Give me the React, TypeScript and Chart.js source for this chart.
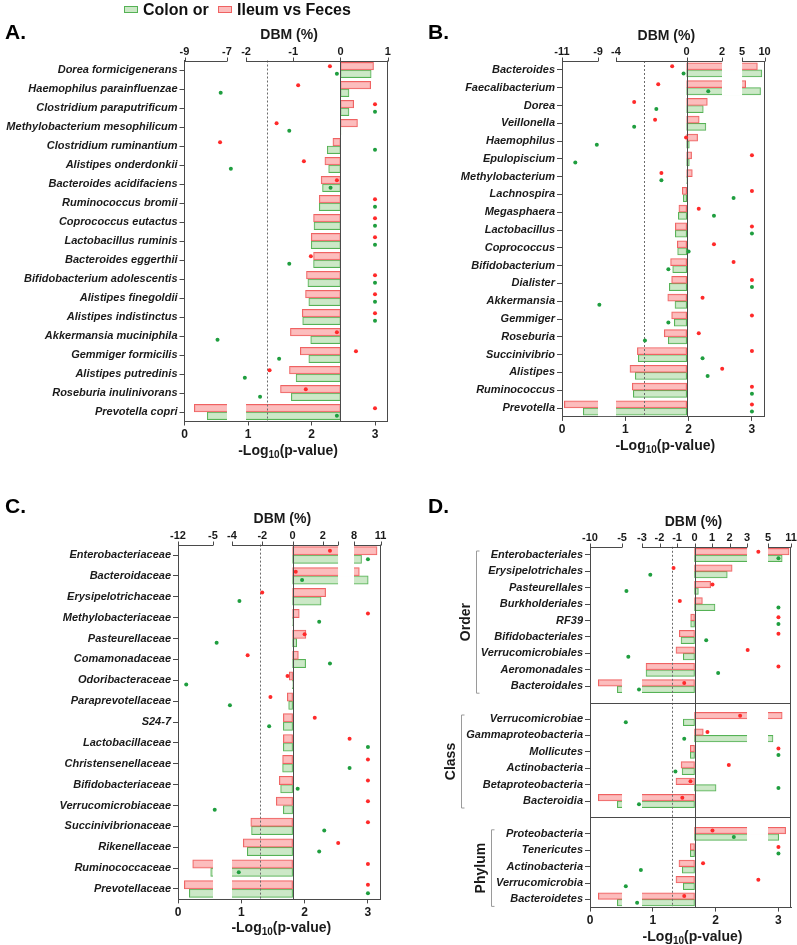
import React, { useEffect, useRef } from 'react';
import { Chart, registerables } from 'chart.js';

Chart.register(...registerables);

const FONT = "'Liberation Sans', Arial, Helvetica, sans-serif";
Chart.defaults.font.family = FONT;

const RED_FILL = 'rgba(251, 178, 178, 0.85)';
const RED_LINE = '#EF6262';
const GREEN_FILL = 'rgba(199, 230, 193, 0.9)';
const GREEN_LINE = '#55B255';
const RED_DOT = '#FF2A2A';
const GREEN_DOT = '#1F9E3F';
const AXIS = '#4a4a4a';
const TEXT = '#1a1a1a';

const P_MAX = 3.2;
const P_THRESHOLD = 1.301; // -log10(0.05)
const P_TICKS = [0, 1, 2, 3];

// ---------------- Panel A (species) ----------------
const A_TAXA = [
  'Dorea formicigenerans', 'Haemophilus parainfluenzae', 'Clostridium paraputrificum',
  'Methylobacterium mesophilicum', 'Clostridium ruminantium', 'Alistipes onderdonkii',
  'Bacteroides acidifaciens', 'Ruminococcus bromii', 'Coprococcus eutactus',
  'Lactobacillus ruminis', 'Bacteroides eggerthii', 'Bifidobacterium adolescentis',
  'Alistipes finegoldii', 'Alistipes indistinctus', 'Akkermansia muciniphila',
  'Gemmiger formicilis', 'Alistipes putredinis', 'Roseburia inulinivorans', 'Prevotella copri',
];
const A_ILEUM_DBM = [0.70, 0.64, 0.28, 0.36, -0.16, -0.33, -0.41, -0.45, -0.57, -0.62, -0.57, -0.72, -0.74, -0.81, -1.06, -0.85, -1.08, -1.27, -8.54];
const A_COLON_DBM = [0.65, 0.18, 0.18, 0.01, -0.28, -0.25, -0.38, -0.45, -0.56, -0.62, -0.57, -0.69, -0.67, -0.80, -0.63, -0.67, -0.94, -1.04, -7.93];
const A_ILEUM_P = [2.29, 1.79, 3.0, 1.45, 0.56, 1.88, 2.40, 3.0, 3.0, 3.0, 1.99, 3.0, 3.0, 3.0, 2.40, 2.70, 1.34, 1.91, 3.0];
const A_COLON_P = [2.40, 0.57, 3.0, 1.65, 3.0, 0.73, 2.30, 3.0, 3.0, 3.0, 1.65, 3.0, 3.0, 3.0, 0.52, 1.49, 0.95, 1.19, 2.40];
const A_DBM_BREAKS = [[-9, -7], [-2, 1]];
const A_DBM_TICKS = [[-9, -7], [-2, -1, 0, 1]];

// ---------------- Panel B (genus) ----------------
const B_TAXA = [
  'Bacteroides', 'Faecalibacterium', 'Dorea', 'Veillonella', 'Haemophilus', 'Epulopiscium',
  'Methylobacterium', 'Lachnospira', 'Megasphaera', 'Lactobacillus', 'Coprococcus',
  'Bifidobacterium', 'Dialister', 'Akkermansia', 'Gemmiger', 'Roseburia', 'Succinivibrio',
  'Alistipes', 'Ruminococcus', 'Prevotella',
];
const B_ILEUM_DBM = [8.4, 5.8, 1.17, 0.71, 0.62, 0.28, 0.32, -0.25, -0.44, -0.64, -0.53, -0.91, -0.85, -1.07, -0.85, -1.27, -2.79, -3.21, -3.08, -10.87];
const B_COLON_DBM = [9.4, 9.1, 0.94, 1.09, 0.15, 0.15, 0.03, -0.19, -0.47, -0.64, -0.51, -0.79, -0.98, -0.66, -0.70, -1.04, -2.74, -2.91, -3.02, -9.82];
const B_ILEUM_P = [1.74, 1.52, 1.14, 1.47, 1.96, 3.0, 1.57, 3.0, 2.16, 3.0, 2.40, 2.71, 3.0, 2.22, 3.0, 2.16, 3.0, 2.53, 3.0, 3.0];
const B_COLON_P = [1.92, 2.31, 1.49, 1.14, 0.55, 0.21, 1.57, 2.71, 2.40, 3.0, 2.0, 1.68, 3.0, 0.59, 1.68, 1.31, 2.22, 2.30, 3.0, 3.0];
const B_DBM_BREAKS = [[-11, -9], [-4, 2], [5, 10]];
const B_DBM_TICKS = [[-11, -9], [-4, 0, 2], [5, 10]];

// ---------------- Panel C (family) ----------------
const C_TAXA = [
  'Enterobacteriaceae', 'Bacteroidaceae', 'Erysipelotrichaceae', 'Methylobacteriaceae',
  'Pasteurellaceae', 'Comamonadaceae', 'Odoribacteraceae', 'Paraprevotellaceae', 'S24-7',
  'Lactobacillaceae', 'Christensenellaceae', 'Bifidobacteriaceae', 'Verrucomicrobiaceae',
  'Succinivibrionaceae', 'Rikenellaceae', 'Ruminococcaceae', 'Prevotellaceae',
];
const C_ILEUM_DBM = [10.6, 8.6, 2.18, 0.44, 0.88, 0.38, -0.22, -0.35, -0.61, -0.61, -0.66, -0.88, -1.08, -2.76, -3.26, -9.06, -10.73];
const C_COLON_DBM = [8.85, 9.6, 1.88, 0.05, 0.27, 0.86, -0.02, -0.26, -0.61, -0.61, -0.66, -0.79, -0.61, -2.71, -2.99, -5.46, -9.73];
const C_ILEUM_P = [2.40, 1.86, 1.33, 3.0, 2.0, 1.10, 1.73, 1.46, 2.16, 2.71, 3.0, 3.0, 3.0, 3.0, 2.53, 3.0, 3.0];
const C_COLON_P = [3.0, 1.96, 0.97, 2.23, 0.61, 2.40, 0.13, 0.82, 1.44, 3.0, 2.71, 1.89, 0.58, 2.31, 2.23, 0.96, 3.0];
const C_DBM_BREAKS = [[-12, -5], [-4, 3], [8, 11]];
const C_DBM_TICKS = [[-12, -5], [-4, -2, 0, 2], [8, 11]];

// ---------------- Panel D (order / class / phylum) ----------------
const D_ORDER_TAXA = ['Enterobacteriales', 'Erysipelotrichales', 'Pasteurellales', 'Burkholderiales', 'RF39', 'Bifidobacteriales', 'Verrucomicrobiales', 'Aeromonadales', 'Bacteroidales'];
const D_ORDER_ILEUM_DBM = [10.5, 2.15, 0.92, 0.45, -0.22, -0.87, -1.06, -2.77, -8.7];
const D_ORDER_COLON_DBM = [8.7, 1.87, 0.22, 1.17, -0.22, -0.77, -0.64, -2.77, -5.73];
const D_ORDER_ILEUM_P = [2.68, 1.33, 1.95, 1.43, 3.0, 3.0, 2.51, 3.0, 1.50];
const D_ORDER_COLON_P = [3.0, 0.96, 0.58, 3.0, 3.0, 1.85, 0.61, 2.04, 0.78];

const D_CLASS_TAXA = ['Verrucomicrobiae', 'Gammaproteobacteria', 'Mollicutes', 'Actinobacteria', 'Betaproteobacteria', 'Bacteroidia'];
const D_CLASS_ILEUM_DBM = [8.7, 0.50, -0.24, -0.77, -1.06, -8.7];
const D_CLASS_COLON_DBM = [-0.64, 6.3, -0.24, -0.71, 1.23, -5.73];
const D_CLASS_ILEUM_P = [2.39, 1.87, 3.0, 2.21, 1.60, 1.47];
const D_CLASS_COLON_P = [0.57, 1.50, 3.0, 1.36, 3.0, 0.78];

const D_PHYLUM_TAXA = ['Proteobacteria', 'Tenericutes', 'Actinobacteria', 'Verrucomicrobia', 'Bacteroidetes'];
const D_PHYLUM_ILEUM_DBM = [9.6, -0.24, -0.89, -1.06, -8.7];
const D_PHYLUM_COLON_DBM = [7.8, -0.24, -0.70, -0.64, -5.73];
const D_PHYLUM_ILEUM_P = [1.95, 3.0, 1.80, 2.68, 1.50];
const D_PHYLUM_COLON_P = [2.29, 3.0, 0.81, 0.57, 0.75];

const D_SECTION_NAMES = ['Order', 'Class', 'Phylum'];
const D_DBM_BREAKS = [[-10, -5], [-3, 3], [5, 11]];
const D_DBM_TICKS = [[-10, -5], [-3, -2, -1, 0, 1, 2, 3], [5, 11]];

function joinSections<T>(a: T[], b: T[], c: T[], gap: T): T[] {
  return [...a, gap, ...b, gap, ...c];
}

type Box = { x: number; y: number; w: number; h: number };
type Area = { l: number; t: number; r: number; b: number };
type Section = { name: string; from: number; to: number };
type Panel = {
  letter: string;
  taxa: string[];
  ileumDbm: (number | null)[];
  colonDbm: (number | null)[];
  ileumP: (number | null)[];
  colonP: (number | null)[];
  breaks: number[][];
  ticks: number[][];
  spans: number[][]; // part of the -log10(p) axis range used by each DBM segment
  box: Box;
  area: Area; // page coordinates of the plot area
  letterAt: [number, number];
  sections?: Section[];
  separators?: number[];
};

const dSections: Section[] = [
  { name: D_SECTION_NAMES[0], from: 0, to: D_ORDER_TAXA.length - 1 },
  { name: D_SECTION_NAMES[1], from: D_ORDER_TAXA.length + 1, to: D_ORDER_TAXA.length + D_CLASS_TAXA.length },
  {
    name: D_SECTION_NAMES[2],
    from: D_ORDER_TAXA.length + D_CLASS_TAXA.length + 2,
    to: D_ORDER_TAXA.length + D_CLASS_TAXA.length + D_PHYLUM_TAXA.length + 1,
  },
];

const PANELS: Panel[] = [
  {
    letter: 'A.', taxa: A_TAXA, ileumDbm: A_ILEUM_DBM, colonDbm: A_COLON_DBM, ileumP: A_ILEUM_P, colonP: A_COLON_P,
    breaks: A_DBM_BREAKS, ticks: A_DBM_TICKS, spans: [[0, 0.669], [0.969, 3.2]],
    box: { x: 0, y: 0, w: 400, h: 465 }, area: { l: 184.5, t: 60.5, r: 387.7, b: 421.5 }, letterAt: [5, 33],
  },
  {
    letter: 'B.', taxa: B_TAXA, ileumDbm: B_ILEUM_DBM, colonDbm: B_COLON_DBM, ileumP: B_ILEUM_P, colonP: B_COLON_P,
    breaks: B_DBM_BREAKS, ticks: B_DBM_TICKS, spans: [[0, 0.569], [0.853, 2.527], [2.844, 3.2]],
    box: { x: 400, y: 0, w: 397, h: 465 }, area: { l: 562, t: 61, r: 764.6, b: 416.9 }, letterAt: [428, 33],
  },
  {
    letter: 'C.', taxa: C_TAXA, ileumDbm: C_ILEUM_DBM, colonDbm: C_COLON_DBM, ileumP: C_ILEUM_P, colonP: C_COLON_P,
    breaks: C_DBM_BREAKS, ticks: C_DBM_TICKS, spans: [[0, 0.553], [0.853, 2.528], [2.78, 3.2]],
    box: { x: 0, y: 465, w: 400, h: 480 }, area: { l: 178, t: 544.6, r: 380.6, b: 899.4 }, letterAt: [5, 507],
  },
  {
    letter: 'D.',
    taxa: joinSections(D_ORDER_TAXA, D_CLASS_TAXA, D_PHYLUM_TAXA, ''),
    ileumDbm: joinSections<number | null>(D_ORDER_ILEUM_DBM, D_CLASS_ILEUM_DBM, D_PHYLUM_ILEUM_DBM, null),
    colonDbm: joinSections<number | null>(D_ORDER_COLON_DBM, D_CLASS_COLON_DBM, D_PHYLUM_COLON_DBM, null),
    ileumP: joinSections<number | null>(D_ORDER_ILEUM_P, D_CLASS_ILEUM_P, D_PHYLUM_ILEUM_P, null),
    colonP: joinSections<number | null>(D_ORDER_COLON_P, D_CLASS_COLON_P, D_PHYLUM_COLON_P, null),
    breaks: D_DBM_BREAKS, ticks: D_DBM_TICKS, spans: [[0, 0.51], [0.828, 2.5], [2.834, 3.2]],
    box: { x: 400, y: 465, w: 397, h: 480 }, area: { l: 590, t: 546.8, r: 791, b: 907.6 }, letterAt: [428, 507],
    sections: dSections,
    separators: [D_ORDER_TAXA.length, D_ORDER_TAXA.length + D_CLASS_TAXA.length + 1],
  },
];

// piecewise (broken-axis) mapping of DBM values onto the shared horizontal axis
function toAxis(v: number, breaks: number[][], spans: number[][]): number {
  const k = breaks.length;
  const lin = (i: number) => {
    const [a, b] = breaks[i];
    const [pa, pb] = spans[i];
    return pa + ((v - a) / (b - a)) * (pb - pa);
  };
  for (let i = 0; i < k; i++) {
    if (v >= breaks[i][0] && v <= breaks[i][1]) return lin(i);
  }
  if (v < breaks[0][0]) return lin(0);
  if (v > breaks[k - 1][1]) return lin(k - 1);
  for (let i = 0; i < k - 1; i++) {
    if (v > breaks[i][1] && v < breaks[i + 1][0]) {
      const f = (v - breaks[i][1]) / (breaks[i + 1][0] - breaks[i][1]);
      return spans[i][1] + f * (spans[i + 1][0] - spans[i][1]);
    }
  }
  return 0;
}

function drawLogTitle(ctx: CanvasRenderingContext2D, cx: number, cy: number) {
  const main = `bold 14px ${FONT}`;
  const sub = `bold 10px ${FONT}`;
  ctx.font = main;
  const w1 = ctx.measureText('-Log').width;
  const w3 = ctx.measureText('(p-value)').width;
  ctx.font = sub;
  const w2 = ctx.measureText('10').width;
  let x = cx - (w1 + w2 + w3) / 2;
  const base = cy + 5;
  ctx.textAlign = 'left';
  ctx.textBaseline = 'alphabetic';
  ctx.fillStyle = TEXT;
  ctx.font = main;
  ctx.fillText('-Log', x, base);
  x += w1;
  ctx.font = sub;
  ctx.fillText('10', x, base + 3);
  x += w2;
  ctx.font = main;
  ctx.fillText('(p-value)', x, base);
}

function buildConfig(panel: Panel): any {
  const { box, area, breaks, spans, taxa } = panel;
  const n = taxa.length;
  const t = (v: number) => toAxis(v, breaks, spans);
  const bars = (vals: (number | null)[]) => vals.map((v) => (v == null ? null : [t(0), t(v)]));
  const pts = (vals: (number | null)[], off: number) =>
    vals.flatMap((v, i) => (v == null ? [] : [{ x: v, y: i + off }]));

  const plotLeft = area.l - box.x;
  const plotTop = area.t - box.y;
  const plotRight = area.r - box.x;
  const plotBottom = area.b - box.y;
  const rowH = (area.b - area.t) / n;
  const barH = rowH * 0.4;

  const gapPixels = (xd: any) => {
    const g: number[][] = [];
    for (let i = 0; i < spans.length - 1; i++) {
      g.push([xd.getPixelForValue(spans[i][1]), xd.getPixelForValue(spans[i + 1][0])]);
    }
    return g;
  };

  const decor = {
    id: 'decor',
    afterDatasetDraw(chart: any, args: any) {
      const meta = args.meta;
      if (meta.type !== 'bar') return;
      const ctx: CanvasRenderingContext2D = chart.ctx;
      const xd = chart.scales.xd;
      const xp = chart.scales.xp;
      const ca = chart.chartArea;
      ctx.save();
      ctx.fillStyle = '#ffffff';
      const gaps = gapPixels(xd);
      meta.data.forEach((el: any) => {
        const { x, base, y, height } = el.getProps(['x', 'base', 'y', 'height'], true);
        if (!isFinite(x) || !isFinite(base) || !isFinite(y)) return;
        const l = Math.min(x, base);
        const r = Math.max(x, base);
        gaps.forEach(([g1, g2]) => {
          const L = Math.max(l, g1);
          const R = Math.min(r, g2);
          if (R > L) ctx.fillRect(L, y - height / 2 - 1, R - L, height + 2);
        });
      });
      if (args.index === 2) {
        const x0 = Math.round(xd.getPixelForValue(t(0))) + 0.5;
        ctx.strokeStyle = AXIS;
        ctx.lineWidth = 1;
        ctx.beginPath();
        ctx.moveTo(x0, ca.top);
        ctx.lineTo(x0, ca.bottom);
        ctx.stroke();
        const xs = Math.round(xp.getPixelForValue(P_THRESHOLD)) + 0.5;
        ctx.strokeStyle = '#6a6a6a';
        ctx.setLineDash([2, 2]);
        ctx.beginPath();
        ctx.moveTo(xs, ca.top);
        ctx.lineTo(xs, ca.bottom);
        ctx.stroke();
        ctx.setLineDash([]);
      }
      ctx.restore();
    },
    afterDraw(chart: any) {
      const ctx: CanvasRenderingContext2D = chart.ctx;
      const xd = chart.scales.xd;
      const ys = chart.scales.y;
      const ca = chart.chartArea;
      ctx.save();
      ctx.strokeStyle = AXIS;
      ctx.lineWidth = 1;
      const xr = Math.round(ca.right) - 0.5;
      ctx.beginPath();
      ctx.moveTo(xr, ca.top);
      ctx.lineTo(xr, ca.bottom);
      ctx.stroke();

      // broken top DBM axis
      const yTop = Math.round(ca.top) + 0.5;
      ctx.font = `bold 11px ${FONT}`;
      ctx.fillStyle = TEXT;
      ctx.textAlign = 'center';
      ctx.textBaseline = 'middle';
      breaks.forEach((seg, k) => {
        const x1 = xd.getPixelForValue(spans[k][0]);
        const x2 = xd.getPixelForValue(spans[k][1]);
        ctx.beginPath();
        ctx.moveTo(x1, yTop);
        ctx.lineTo(x2, yTop);
        ctx.stroke();
        const marks = Array.from(new Set([seg[0], ...panel.ticks[k], seg[1]]));
        marks.forEach((v) => {
          const x = Math.round(xd.getPixelForValue(t(v))) + 0.5;
          ctx.beginPath();
          ctx.moveTo(x, yTop);
          ctx.lineTo(x, yTop - 4);
          ctx.stroke();
        });
        panel.ticks[k].forEach((v) => {
          const x = xd.getPixelForValue(t(v));
          ctx.fillText(String(v), x, ca.top - 9);
        });
      });

      const cx = (ca.left + ca.right) / 2 + 3;
      ctx.font = `bold 14px ${FONT}`;
      ctx.fillText('DBM (%)', cx, ca.top - 25);
      drawLogTitle(ctx, cx - 1, ca.bottom + 28);

      ctx.font = `bold 21px ${FONT}`;
      ctx.textAlign = 'left';
      ctx.textBaseline = 'middle';
      ctx.fillStyle = '#000';
      ctx.fillText(panel.letter, panel.letterAt[0] - box.x, panel.letterAt[1] - box.y);

      if (panel.separators) {
        ctx.strokeStyle = AXIS;
        panel.separators.forEach((idx) => {
          const y = Math.round(ys.getPixelForValue(idx)) + 0.5;
          ctx.beginPath();
          ctx.moveTo(ca.left, y);
          ctx.lineTo(ca.right, y);
          ctx.stroke();
        });
      }
      if (panel.sections) {
        const labelRight = ca.left - 5 - 2;
        panel.sections.forEach((sec) => {
          ctx.font = `italic bold 11px ${FONT}`;
          const names = taxa.slice(sec.from, sec.to + 1);
          const maxW = Math.max(...names.map((s) => ctx.measureText(s).width));
          const bx = Math.round(labelRight - maxW - 5) + 0.5;
          const y0 = ys.getPixelForValue(sec.from) - 4;
          const y1 = ys.getPixelForValue(sec.to) + 7;
          ctx.strokeStyle = '#9a9a9a';
          ctx.beginPath();
          ctx.moveTo(bx + 3, y0);
          ctx.lineTo(bx, y0);
          ctx.lineTo(bx, y1);
          ctx.lineTo(bx + 3, y1);
          ctx.stroke();
          ctx.save();
          ctx.translate(bx - 10, (y0 + y1) / 2);
          ctx.rotate(-Math.PI / 2);
          ctx.font = `bold 14px ${FONT}`;
          ctx.fillStyle = TEXT;
          ctx.textAlign = 'center';
          ctx.textBaseline = 'middle';
          ctx.fillText(sec.name, 0, 0);
          ctx.restore();
        });
      }
      ctx.restore();
    },
  };

  const barStyle = {
    type: 'bar', xAxisID: 'xd', yAxisID: 'y', order: 1, indexAxis: 'y',
    borderWidth: 1, borderSkipped: false, barThickness: barH, grouped: true,
  };
  const dotStyle = {
    type: 'scatter', xAxisID: 'xp', yAxisID: 'yp', order: 0,
    pointRadius: 2, pointBorderWidth: 0, showLine: false,
  };

  return {
    type: 'bar',
    data: {
      labels: taxa,
      datasets: [
        { ...dotStyle, label: 'Ileum vs Feces p', data: pts(panel.ileumP, -0.2), pointBackgroundColor: RED_DOT, backgroundColor: RED_DOT, borderColor: RED_DOT },
        { ...dotStyle, label: 'Colon or p', data: pts(panel.colonP, 0.2), pointBackgroundColor: GREEN_DOT, backgroundColor: GREEN_DOT, borderColor: GREEN_DOT },
        { ...barStyle, label: 'Ileum vs Feces', data: bars(panel.ileumDbm), backgroundColor: RED_FILL, borderColor: RED_LINE },
        { ...barStyle, label: 'Colon or', data: bars(panel.colonDbm), backgroundColor: GREEN_FILL, borderColor: GREEN_LINE },
      ],
    },
    options: {
      indexAxis: 'y',
      responsive: false,
      animation: false,
      devicePixelRatio: 1,
      events: [],
      layout: { padding: { left: 0, top: plotTop, right: box.w - plotRight, bottom: 0 } },
      plugins: { legend: { display: false }, tooltip: { enabled: false }, title: { display: false } },
      scales: {
        y: {
          type: 'category', position: 'left', offset: true,
          grid: {
            offset: false, drawOnChartArea: false, drawTicks: true, tickLength: 5,
            tickColor: (c: any) => (taxa[c.index] ? AXIS : 'rgba(0,0,0,0)'),
          },
          border: { display: true, color: AXIS, width: 1 },
          ticks: {
            autoSkip: false, padding: 2, color: TEXT,
            font: { family: FONT, size: 11, weight: 'bold', style: 'italic' },
          },
          afterFit: (s: any) => { s.width = plotLeft; },
        },
        yp: {
          type: 'linear', axis: 'y', position: 'left', display: false, offset: false,
          grid: { offset: false }, beginAtZero: false, grace: 0,
          min: -0.5, max: n - 0.5, reverse: true,
        },
        xd: { type: 'linear', axis: 'x', position: 'top', display: false, offset: false, min: 0, max: P_MAX },
        xp: {
          type: 'linear', axis: 'x', position: 'bottom', offset: false, min: 0, max: P_MAX,
          afterBuildTicks: (s: any) => { s.ticks = P_TICKS.map((v) => ({ value: v })); },
          grid: { drawOnChartArea: false, drawTicks: true, tickLength: 4, color: AXIS },
          border: { display: true, color: AXIS, width: 1 },
          ticks: { padding: 2, color: TEXT, font: { family: FONT, size: 12, weight: 'bold' } },
          afterFit: (s: any) => { s.height = box.h - plotBottom; },
        },
      },
    },
    plugins: [decor],
  };
}

function PanelChart({ panel }: { panel: Panel }) {
  const ref = useRef<HTMLCanvasElement>(null);
  useEffect(() => {
    if (!ref.current) return;
    const chart = new Chart(ref.current, buildConfig(panel));
    return () => chart.destroy();
  }, [panel]);
  const { box } = panel;
  return (
    <canvas
      ref={ref}
      width={box.w}
      height={box.h}
      style={{ position: 'absolute', left: box.x, top: box.y, width: box.w, height: box.h }}
    />
  );
}

function Legend() {
  const label: React.CSSProperties = {
    position: 'absolute', top: 0, font: `bold 16px ${FONT}`, lineHeight: '19px', color: '#111', whiteSpace: 'nowrap',
  };
  const swatch = (fill: string, line: string, left: number): React.CSSProperties => ({
    position: 'absolute', left, top: 6, width: 14, height: 7, background: fill,
    border: `1px solid ${line}`, boxSizing: 'border-box',
  });
  return (
    <div style={{ position: 'absolute', left: 0, top: 0, width: 797, height: 22, pointerEvents: 'none' }}>
      <div style={swatch(GREEN_FILL, GREEN_LINE, 124)} />
      <div style={{ ...label, left: 143 }}>Colon or</div>
      <div style={swatch(RED_FILL, RED_LINE, 218)} />
      <div style={{ ...label, left: 237 }}>Ileum vs Feces</div>
    </div>
  );
}

export default function App() {
  return (
    <div style={{ position: 'absolute', left: 0, top: 0, width: 797, height: 945, background: '#fff', overflow: 'hidden' }}>
      {PANELS.map((p) => (
        <PanelChart key={p.letter} panel={p} />
      ))}
      <Legend />
    </div>
  );
}
